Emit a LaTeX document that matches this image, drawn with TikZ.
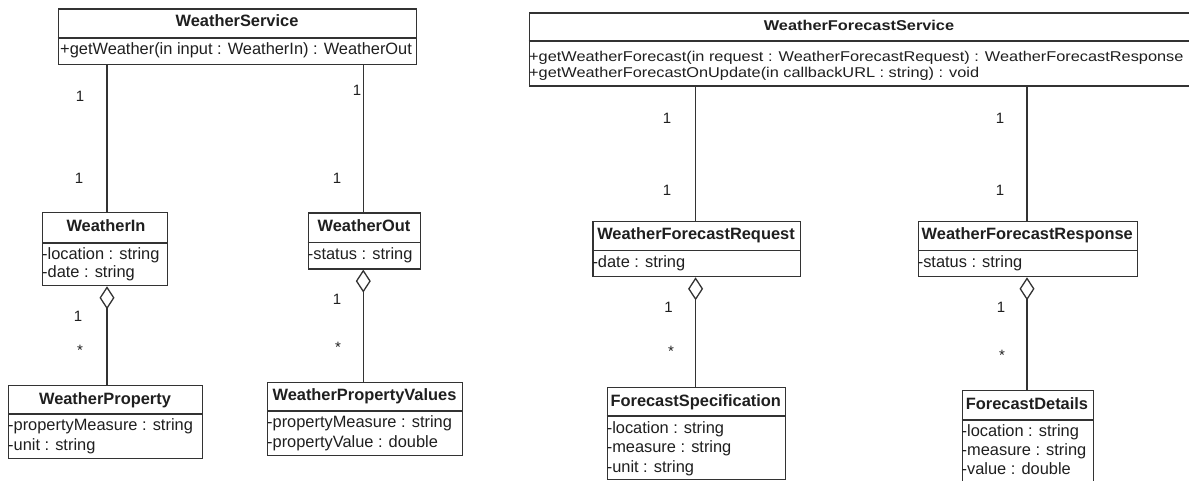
\documentclass[tikz,border=0pt]{standalone}
\usepackage{fontspec}
\setmainfont{Liberation Sans}
\newfontfamily\wfsfont[FakeStretch=1.15]{Liberation Sans}
\usetikzlibrary{arrows.meta}
\definecolor{linec}{gray}{0.2}
\definecolor{textc}{gray}{0.12}
\tikzset{
  box/.style={draw=linec, line width=1.3pt, inner sep=0pt, anchor=north west, fill=white},
  divl/.style={draw=linec, line width=1.3pt},
  ttl/.style={font=\bfseries\fontsize{16.4}{19}\selectfont, text=textc, inner sep=0pt, text height=13pt, text depth=3pt, anchor=center},
  txt/.style={font=\fontsize{16.4}{19}\selectfont, text=textc, inner sep=0pt, text height=13pt, text depth=3pt, anchor=west},
  wttl/.style={font=\wfsfont\bfseries\fontsize{14.2}{16}\selectfont, text=textc, inner sep=0pt, text height=11pt, text depth=3pt, anchor=center},
  wtxt/.style={font=\wfsfont\fontsize{14.2}{16}\selectfont, text=textc, inner sep=0pt, text height=11pt, text depth=3pt, anchor=west},
  mult/.style={font=\fontsize{15}{18}\selectfont, text=textc, inner sep=0pt, text height=11pt, text depth=0pt, anchor=center},
  conn/.style={draw=linec, line width=1.3pt},
  agg/.style={draw=linec, line width=1.3pt, {Diamond[open,length=23pt,width=15pt]}-}
}
\begin{document}
\begin{tikzpicture}[x=1pt,y=-1pt]
\useasboundingbox (0,0) rectangle (1189,481);
\fill[white] (0,0) rectangle (1189,481);

% ---------- Left diagram ----------
% WeatherService
\node[box, minimum width=358.3pt, minimum height=55.7pt] (ws) at (57.7,8.3) {};
\draw[divl] (57.7,38) -- (416,38);
\node[ttl] (wst) at (237,22) {WeatherService};
\node[txt] (wsm) at (60,49.5) {+getWeather(in input : WeatherIn) : WeatherOut};

% WeatherIn
\node[box, minimum width=125pt, minimum height=73pt] (win) at (42,212) {};
\draw[divl] (42,243) -- (167,243);
\node[ttl] (wint) at (106,226.5) {WeatherIn};
\node[txt] (wina) at (42,254) {-location : string};
\node[txt] (winb) at (42,272.5) {-date : string};

% WeatherOut
\node[box, minimum width=112.3pt, minimum height=56pt] (wout) at (307.7,212.3) {};
\draw[divl] (307.7,242.7) -- (420,242.7);
\node[ttl] (woutt) at (364,227) {WeatherOut};
\node[txt] (wouta) at (307.7,254.5) {-status : string};

% WeatherProperty
\node[box, minimum width=194pt, minimum height=73pt] (wp) at (8,385) {};
\draw[divl] (8,414) -- (202,414);
\node[ttl] (wpt) at (105,399.5) {WeatherProperty};
\node[txt] (wpa) at (8,425.5) {-propertyMeasure : string};
\node[txt] (wpb) at (8,445.5) {-unit : string};

% WeatherPropertyValues
\node[box, minimum width=195pt, minimum height=73pt] (wpv) at (267,382) {};
\draw[divl] (267,411) -- (462,411);
\node[ttl] (wpvt) at (364.5,395.5) {WeatherPropertyValues};
\node[txt] (wpva) at (267,422.5) {-propertyMeasure : string};
\node[txt] (wpvb) at (267,442.5) {-propertyValue : double};

% connectors left
\coordinate (c1) at (107,0);
\coordinate (c2) at (363.3,0);
\draw[conn] (ws.south -| c1) -- (win.north -| c1);
\draw[conn] (ws.south -| c2) -- (wout.north -| c2);
\draw[agg] (win.south -| c1) -- (wp.north -| c1);
\draw[agg] (wout.south -| c2) -- (wpv.north -| c2);

\node[mult] (m1) at (80,96) {1};
\node[mult] (m2) at (79,178) {1};
\node[mult] (m3) at (357,90) {1};
\node[mult] (m4) at (337,178) {1};
\node[mult] (m5) at (78,316) {1};
\node[mult] (m6) at (80,350) {*};
\node[mult] (m7) at (337,299) {1};
\node[mult] (m8) at (338,347) {*};

% ---------- Right diagram ----------
% WeatherForecastService
\node[box, minimum width=662pt, minimum height=73pt] (wfs) at (528.5,12.5) {};
\draw[divl] (528.5,41) -- (1190.5,41);
\node[wttl] (wfst) at (859,26.5) {WeatherForecastService};
\node[wtxt] (wfsm1) at (529,57.8) {+getWeatherForecast(in request : WeatherForecastRequest) : WeatherForecastResponse};
\node[wtxt] (wfsm2) at (529,73.4) {+getWeatherForecastOnUpdate(in callbackURL : string) : void};

% WeatherForecastRequest
\node[box, minimum width=207.7pt, minimum height=55pt] (wfq) at (592.3,221) {};
\draw[divl] (592.3,250.7) -- (800,250.7);
\node[ttl] (wfqt) at (696,235) {WeatherForecastRequest};
\node[txt] (wfqa) at (592.3,262) {-date : string};

% WeatherForecastResponse
\node[box, minimum width=219.4pt, minimum height=55pt] (wfr) at (917.6,221) {};
\draw[divl] (917.6,250.7) -- (1137,250.7);
\node[ttl] (wfrt) at (1027.3,235) {WeatherForecastResponse};
\node[txt] (wfra) at (917.6,262) {-status : string};

% ForecastSpecification
\node[box, minimum width=178.4pt, minimum height=92.3pt] (fs) at (606.6,386.7) {};
\draw[divl] (606.6,416) -- (785,416);
\node[ttl] (fst) at (695.8,401) {ForecastSpecification};
\node[txt] (fsa) at (606.6,428) {-location : string};
\node[txt] (fsb) at (606.6,447.7) {-measure : string};
\node[txt] (fsc) at (606.6,467.3) {-unit : string};

% ForecastDetails
\node[box, minimum width=131pt, minimum height=100pt] (fd) at (961.5,389.5) {};
\draw[divl] (961.5,420) -- (1092.5,420);
\node[ttl] (fdt) at (1027,404.5) {ForecastDetails};
\node[txt] (fda) at (961.5,431.5) {-location : string};
\node[txt] (fdb) at (961.5,450.5) {-measure : string};
\node[txt] (fdc) at (961.5,469.5) {-value : double};

% connectors right
\coordinate (c3) at (695.6,0);
\coordinate (c4) at (1027,0);
\draw[conn] (wfs.south -| c3) -- (wfq.north -| c3);
\draw[conn] (wfs.south -| c4) -- (wfr.north -| c4);
\draw[agg] (wfq.south -| c3) -- (fs.north -| c3);
\draw[agg] (wfr.south -| c4) -- (fd.north -| c4);

\node[mult] (m9) at (667,118) {1};
\node[mult] (m10) at (667,190) {1};
\node[mult] (m11) at (1000,118) {1};
\node[mult] (m12) at (1000,190) {1};
\node[mult] (m13) at (668.5,307) {1};
\node[mult] (m14) at (671,351) {*};
\node[mult] (m15) at (1001,307) {1};
\node[mult] (m16) at (1002,355) {*};
\end{tikzpicture}
\end{document}
